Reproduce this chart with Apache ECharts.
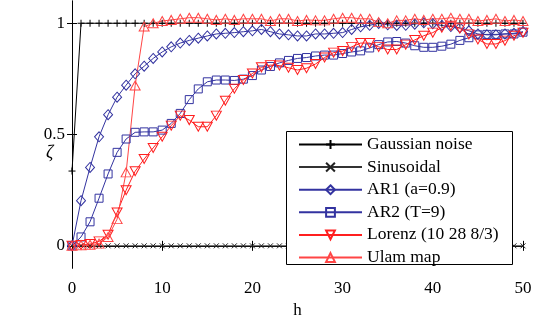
<!DOCTYPE html>
<html><head><meta charset="utf-8">
<script src="https://cdn.jsdelivr.net/npm/echarts@6/dist/echarts.min.js"></script>
<style>html,body{margin:0;padding:0;background:#fff}#c{width:544px;height:324px}</style>
</head><body><div id="c"></div>
<script>
// ---- data ----
const h = [0,1,2,3,4,5,6,7,8,9,10,11,12,13,14,15,16,17,18,19,20,21,22,23,24,25,26,27,28,29,30,31,32,33,34,35,36,37,38,39,40,41,42,43,44,45,46,47,48,49,50];
const gaussian = [0.336,1,1,1,1,1,1,1,1,1,1,1,1,1,1,1,1,1,1,1,1,1,1,1,1,1,1,1,1,1,1,1,1,1,1,1,1,1,1,1,1,1,1,1,1,1,1,1,1,1,1];
const sinusoidal = [0,0,0,0,0,0,0,0,0,0,0,0,0,0,0,0,0,0,0,0,0,0,0,0,0,0,0,0,0,0,0,0,0,0,0,0,0,0,0,0,0,0,0,0,0,0,0,0,0,0,0];
const ar1 = [0,0.203,0.352,0.49,0.589,0.668,0.722,0.773,0.807,0.842,0.871,0.894,0.911,0.923,0.933,0.943,0.952,0.955,0.958,0.962,0.966,0.972,0.962,0.952,0.948,0.943,0.943,0.952,0.952,0.955,0.958,0.972,0.984,0.991,0.999,0.993,0.99,0.991,0.996,1.002,0.998,0.99,0.985,0.98,0.966,0.952,0.948,0.948,0.952,0.955,0.962];
const ar2 = [0,0.04,0.108,0.214,0.323,0.42,0.48,0.51,0.512,0.512,0.52,0.55,0.595,0.657,0.705,0.737,0.745,0.745,0.743,0.749,0.765,0.79,0.806,0.822,0.833,0.842,0.846,0.853,0.857,0.857,0.864,0.871,0.876,0.889,0.904,0.916,0.918,0.911,0.899,0.892,0.892,0.897,0.906,0.923,0.935,0.948,0.95,0.95,0.952,0.952,0.96];
const lorenz = [0,0.004,0.008,0.02,0.05,0.15,0.25,0.335,0.39,0.44,0.49,0.54,0.585,0.565,0.535,0.535,0.585,0.652,0.706,0.745,0.774,0.802,0.812,0.81,0.8,0.79,0.798,0.817,0.846,0.868,0.875,0.894,0.911,0.911,0.894,0.882,0.882,0.904,0.925,0.944,0.958,0.98,0.989,0.977,0.95,0.927,0.907,0.907,0.922,0.944,0.958];
const ulam = [0,0.003,0.005,0.01,0.04,0.12,0.33,0.72,0.985,1.0,1.01,1.015,1.02,1.025,1.025,1.02,1.015,1.02,1.015,1.02,1.02,1.02,1.01,1.02,1.02,1.01,1.015,1.013,1.013,1.02,1.025,1.025,1.02,1.02,1.005,1.0,1.013,1.013,1.02,1.015,1.02,1.02,1.025,1.02,1.02,1.01,1.015,1.02,1.01,1.015,1.01];
const names = ['Gaussian noise','Sinusoidal','AR1 (a=0.9)','AR2 (T=9)','Lorenz (10 28 8/3)','Ulam map'];
const xTicks = [0,10,20,30,40,50];
const yTicks = [0,0.5,1];

// ---- styling ----
const FONT = 'Liberation Serif';
const BLUE = '#3333a0', RED = '#ff1f1f', RED2 = '#ff4545';
const P = {
  plus: 'path://M5,0L5,10M0,5L10,5',
  cross: 'path://M0,0L10,10M0,10L10,0',
  diamond: 'path://M5,0L10,5L5,10L0,5Z',
  square: 'path://M0,0L10,0L10,10L0,10Z',
  tdown: 'path://M0,0L10,0L5,9Z',
  tup: 'path://M5,0L10,9L0,9Z'
};
function mk(name, vals, color, sym, size, lineColor) {
  return {
    name: name, type: 'line',
    data: h.map((x, i) => [x, vals[i]]),
    symbol: sym, symbolSize: size, showSymbol: true, showAllSymbol: true,
    lineStyle: { color: lineColor || color, width: 1 },
    itemStyle: { color: 'transparent', borderColor: color, borderWidth: 1 },
    emphasis: { disabled: true }, silent: true, animation: false
  };
}
const series = [
  mk(names[0], gaussian, '#000', P.plus, [7,7], '#000'),
  mk(names[1], sinusoidal, '#222', P.cross, [5,5], '#333'),
  mk(names[2], ar1, BLUE, P.diamond, [9,10]),
  mk(names[3], ar2, BLUE, P.square, [8,8]),
  mk(names[4], lorenz, RED, P.tdown, [10,9]),
  mk(names[5], ulam, RED2, P.tup, [10,9])
];

const chart = echarts.init(document.getElementById('c'), null, { renderer: 'canvas' });
const labelStyle = { color: '#000', fontFamily: FONT, fontSize: 17 };
chart.setOption({
  animation: false,
  backgroundColor: '#fff',
  grid: { left: 72, right: 21, top: 1, bottom: 49, containLabel: false },
  xAxis: [
    { type: 'value', min: 0, max: 50, interval: 10, position: 'bottom',
      axisLine: { lineStyle: { color: '#000', width: 1 } },
      axisTick: { inside: true, length: 5, lineStyle: { color: '#000' } },
      axisLabel: Object.assign({ margin: 12, customValues: xTicks }, labelStyle),
      splitLine: { show: false },
      name: 'h', nameLocation: 'middle', nameGap: 29,
      nameTextStyle: { color: '#000', fontFamily: FONT, fontSize: 17 } },
    { type: 'value', min: 0, max: 50, interval: 10, position: 'top',
      axisLine: { lineStyle: { color: '#000', width: 1 } },
      axisTick: { inside: true, length: 5, lineStyle: { color: '#000' } },
      axisLabel: { show: false }, splitLine: { show: false } }
  ],
  yAxis: [
    { type: 'value', min: -0.1, max: 1.1, position: 'left',
      axisLine: { show: true, lineStyle: { color: '#000', width: 1 } },
      axisTick: { show: true, inside: true, length: 5, customValues: yTicks, lineStyle: { color: '#000' } },
      axisLabel: Object.assign({ margin: 7, customValues: yTicks, formatter: v => String(v) }, labelStyle),
      splitLine: { show: false } },
    { type: 'value', min: -0.1, max: 1.1, position: 'right',
      axisLine: { show: true, lineStyle: { color: '#000', width: 1 } },
      axisTick: { show: true, inside: true, length: 5, customValues: yTicks, lineStyle: { color: '#000' } },
      axisLabel: { show: false }, splitLine: { show: false } }
  ],
  legend: {
    data: names, orient: 'vertical', left: 298, top: 135.5, padding: 0,
    itemWidth: 63, itemHeight: 11, itemGap: 4.6,
    textStyle: { color: '#000', fontFamily: FONT, fontSize: 17.5 },
    selectedMode: false, z: 10
  },
  graphic: [
    { type: 'rect', z: 5, silent: true,
      shape: { x: 286.5, y: 131.5, width: 226, height: 133 },
      style: { fill: '#fff', stroke: '#000', lineWidth: 1 } },
    { type: 'text', z: 5, left: 46, top: 144, silent: true,
      style: { text: 'ζ', fill: '#000', fontFamily: FONT, fontSize: 18, fontStyle: 'italic' } }
  ],
  series: series
});
</script></body></html>
